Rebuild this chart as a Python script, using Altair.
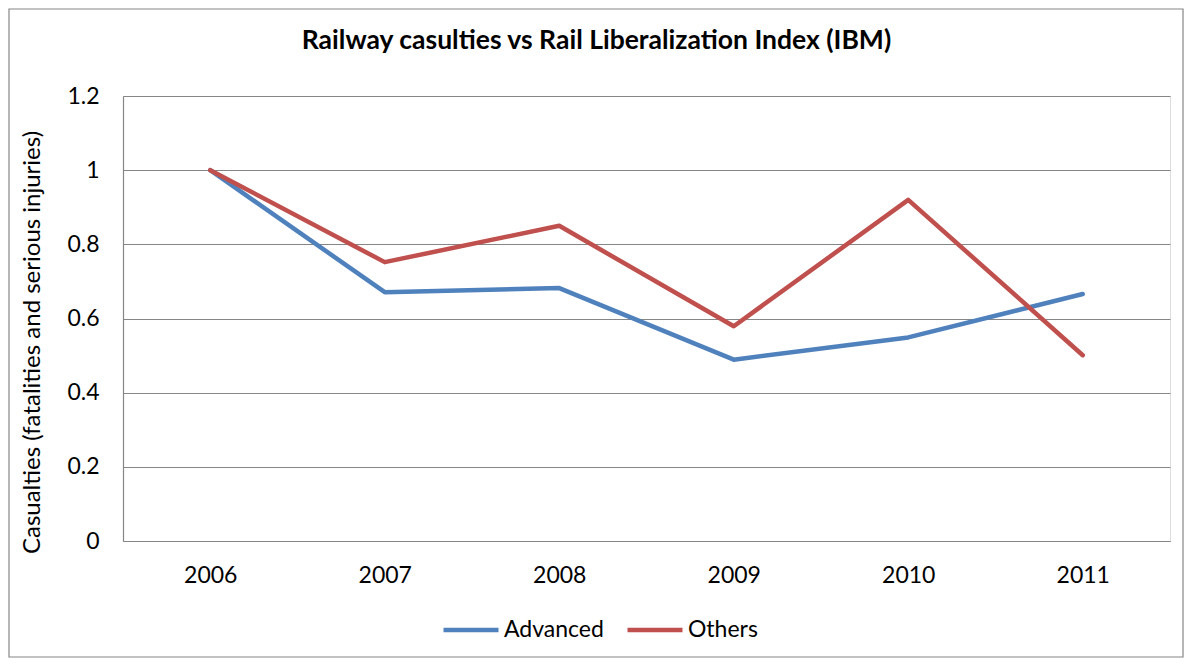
import altair as alt
import pandas as pd

years = ["2006", "2007", "2008", "2009", "2010", "2011"]
advanced = [1.0, 0.671, 0.682, 0.489, 0.549, 0.666]
others = [1.0, 0.752, 0.850, 0.579, 0.920, 0.501]
series = ["Advanced", "Others"]
colors = ["#4F81BD", "#C0504D"]
y_ticks = [0, 0.2, 0.4, 0.6, 0.8, 1.0, 1.2]

rows = []
for y, a, o in zip(years, advanced, others):
    rows.append({"year": y, "series": "Advanced", "value": a})
    rows.append({"year": y, "series": "Others", "value": o})
df = pd.DataFrame(rows)

FONT = "Lato"
FS = 23

lines = alt.Chart(df).mark_line(strokeWidth=4.5, strokeCap="round", strokeJoin="round").encode(
    x=alt.X("year:O", sort=years, title=None,
            axis=alt.Axis(labelAngle=0, labelFontSize=FS, labelFont=FONT, labelColor="#000000",
                          labelPadding=23, ticks=False, domainColor="#868686", domainWidth=1.2,
                          grid=False)),
    y=alt.Y("value:Q", scale=alt.Scale(domain=[0, 1.2], nice=False),
            title="Casualties (fatalities and serious injuries)",
            axis=alt.Axis(values=y_ticks, format="~g", labelFontSize=FS, labelFont=FONT,
                          labelColor="#000000", labelPadding=24, ticks=False,
                          domainColor="#868686", domainWidth=1.2, gridColor="#868686",
                          gridWidth=1.2, titleFont=FONT, titleFontSize=24, titleFontWeight="normal",
                          titleColor="#000000", titlePadding=22, titleY=246)),
    color=alt.Color("series:N", scale=alt.Scale(domain=series, range=colors),
                    legend=alt.Legend(title=None, orient="none", legendX=318, legendY=504,
                                      direction="horizontal", symbolType="stroke",
                                      symbolStrokeWidth=4.5, symbolSize=3025,
                                      labelFontSize=FS, labelFont=FONT, labelColor="#000000",
                                      labelOffset=3, columnPadding=14)),
)

frame = alt.Chart(pd.DataFrame({"a": [0]})).mark_rect(fill=None, stroke="#868686", strokeWidth=1.2).encode(
    x=alt.value(-114), x2=alt.value(1060), y=alt.value(-87), y2=alt.value(561)
)

chart = alt.layer(frame, lines).properties(
    width=1047, height=445,
    title=alt.TitleParams("Railway casulties vs Rail Liberalization Index (IBM)",
                          font=FONT, fontSize=26.5, fontWeight="bold", color="#000000",
                          anchor="middle", dx=-50, offset=-46),
    padding={"left": 115, "top": 88, "right": 14, "bottom": 117},
    autosize=alt.AutoSizeParams(type="none"),
).configure_view(stroke=None).configure(background="white")

chart.save("out.html", embed_options={"renderer": "svg", "actions": False})
